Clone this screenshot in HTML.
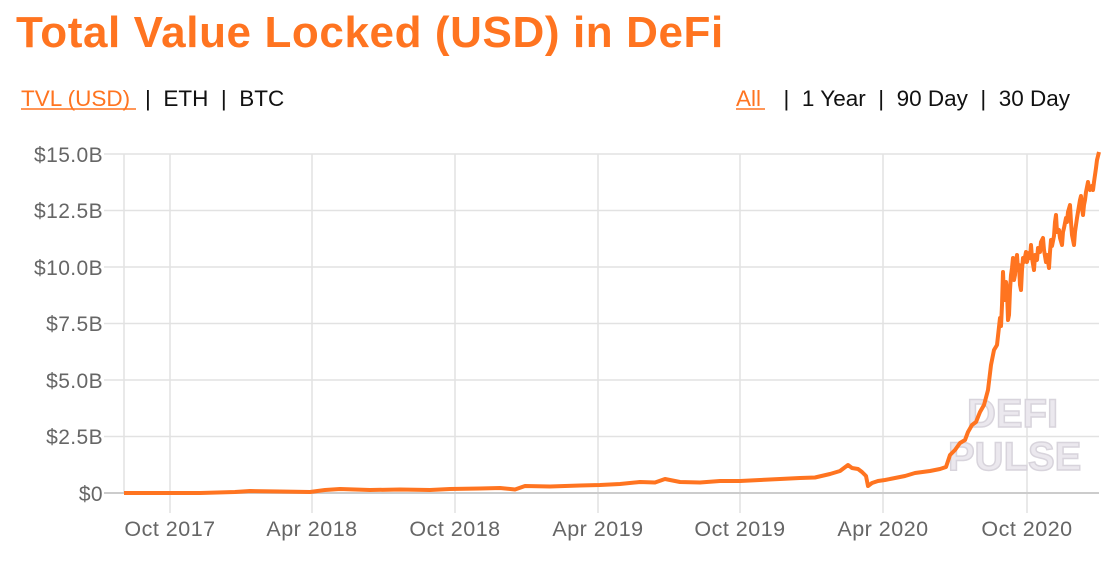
<!DOCTYPE html>
<html><head><meta charset="utf-8"><style>
body{margin:0;background:#fff;width:1120px;height:562px;overflow:hidden;font-family:"Liberation Sans",sans-serif}
</style></head><body>
<svg width="1120" height="562" xmlns="http://www.w3.org/2000/svg" font-family="Liberation Sans, sans-serif">
<text x="16" y="47" font-size="44" font-weight="bold" fill="#ff7420" letter-spacing="0.6">Total Value Locked (USD) in DeFi</text>
<g font-size="22.5" fill="#111">
<text x="21" y="106" fill="#ff7420">TVL (USD)</text>
<line x1="21" y1="109" x2="136" y2="109" stroke="#ff7420" stroke-width="1.5"/>
<text x="145" y="106" xml:space="preserve">|  ETH  |  BTC</text>
<text x="736" y="106" fill="#ff7420">All</text>
<line x1="736" y1="109" x2="765" y2="109" stroke="#ff7420" stroke-width="1.5"/>
<text x="1070" y="106" text-anchor="end" xml:space="preserve">|  1 Year  |  90 Day  |  30 Day</text>
</g>
<g stroke="#e2e2e2" stroke-width="1.5">
<line x1="104" y1="154" x2="1099" y2="154"/>
<line x1="104" y1="210.5" x2="1099" y2="210.5"/>
<line x1="104" y1="267" x2="1099" y2="267"/>
<line x1="104" y1="323.5" x2="1099" y2="323.5"/>
<line x1="104" y1="380" x2="1099" y2="380"/>
<line x1="104" y1="436.5" x2="1099" y2="436.5"/>
<line x1="124" y1="154" x2="124" y2="493"/>
<line x1="170" y1="154" x2="170" y2="513"/>
<line x1="312" y1="154" x2="312" y2="513"/>
<line x1="455" y1="154" x2="455" y2="513"/>
<line x1="598" y1="154" x2="598" y2="513"/>
<line x1="740" y1="154" x2="740" y2="513"/>
<line x1="883" y1="154" x2="883" y2="513"/>
<line x1="1027" y1="154" x2="1027" y2="513"/>
</g>
<line x1="104" y1="493" x2="1099" y2="493" stroke="#cccccc" stroke-width="2"/>
<g font-size="21" fill="#666" text-anchor="end" letter-spacing="0.4">
<text x="103" y="162">$15.0B</text>
<text x="103" y="218">$12.5B</text>
<text x="103" y="275">$10.0B</text>
<text x="103" y="331">$7.5B</text>
<text x="103" y="388">$5.0B</text>
<text x="103" y="444">$2.5B</text>
<text x="103" y="501">$0</text>
</g>
<g font-size="21.5" fill="#666" text-anchor="middle" letter-spacing="0.5">
<text x="170" y="536">Oct 2017</text>
<text x="312" y="536">Apr 2018</text>
<text x="455" y="536">Oct 2018</text>
<text x="598" y="536">Apr 2019</text>
<text x="740" y="536">Oct 2019</text>
<text x="883" y="536">Apr 2020</text>
<text x="1027" y="536">Oct 2020</text>
</g>
<g font-size="40" font-weight="bold" fill="#ebe8ee" stroke="#d8d4dc" stroke-width="1.5">
<text x="967" y="427">DEFI</text>
<text x="948" y="470">PULSE</text>
</g>
<polyline fill="none" stroke="#ff7420" stroke-width="4" stroke-linejoin="round" points="
124,493 200,493 235,492 250,491 280,491.5 310,492 325,490 340,489 370,490 400,489.5 430,490 450,489 480,488.5 500,488 515,489.5 525,486 550,486.5 580,485.5 600,485 620,484 640,482 655,482.5 665,479 680,482 700,482.5 720,481 740,481 760,480 780,479 800,478 815,477.5 830,474 840,471 848,465 852,468 858,469 862,472 866,476 868,486 872,483 878,481 885,480 895,478 905,476 915,473 930,471 940,469 946,467 950,455 955,450 960,443 965,440 968,432 972,425 976,422 980,412 984,405 988,390 991,365 994,350 997,345 1000,318 1001,326 1002,305 1003,272 1004,296 1005,300 1006,282 1007,290 1008,320 1009,315 1010,290 1011,275 1012,268 1013,258 1014,280 1015,275 1016,262 1017,255 1018,270 1019,265 1020,285 1021,290 1022,270 1023,258 1024,262 1026,252 1027,262 1029,253 1030,258 1031,245 1032,258 1034,270 1035,255 1037,260 1038,248 1040,252 1041,242 1043,238 1044,250 1046,262 1047,255 1049,268 1050,252 1051,240 1052,246 1054,236 1055,222 1056,215 1057,232 1059,230 1060,238 1062,245 1063,232 1064,228 1066,218 1067,222 1068,212 1070,205 1071,222 1072,235 1073,240 1074,245 1075,232 1076,225 1077,218 1078,212 1080,200 1081,196 1082,208 1083,215 1084,205 1085,200 1086,192 1088,182 1089,188 1090,190 1092,186 1093,190 1094,182 1095,175 1096,168 1097,160 1099,152"/>
</svg>
</body></html>
